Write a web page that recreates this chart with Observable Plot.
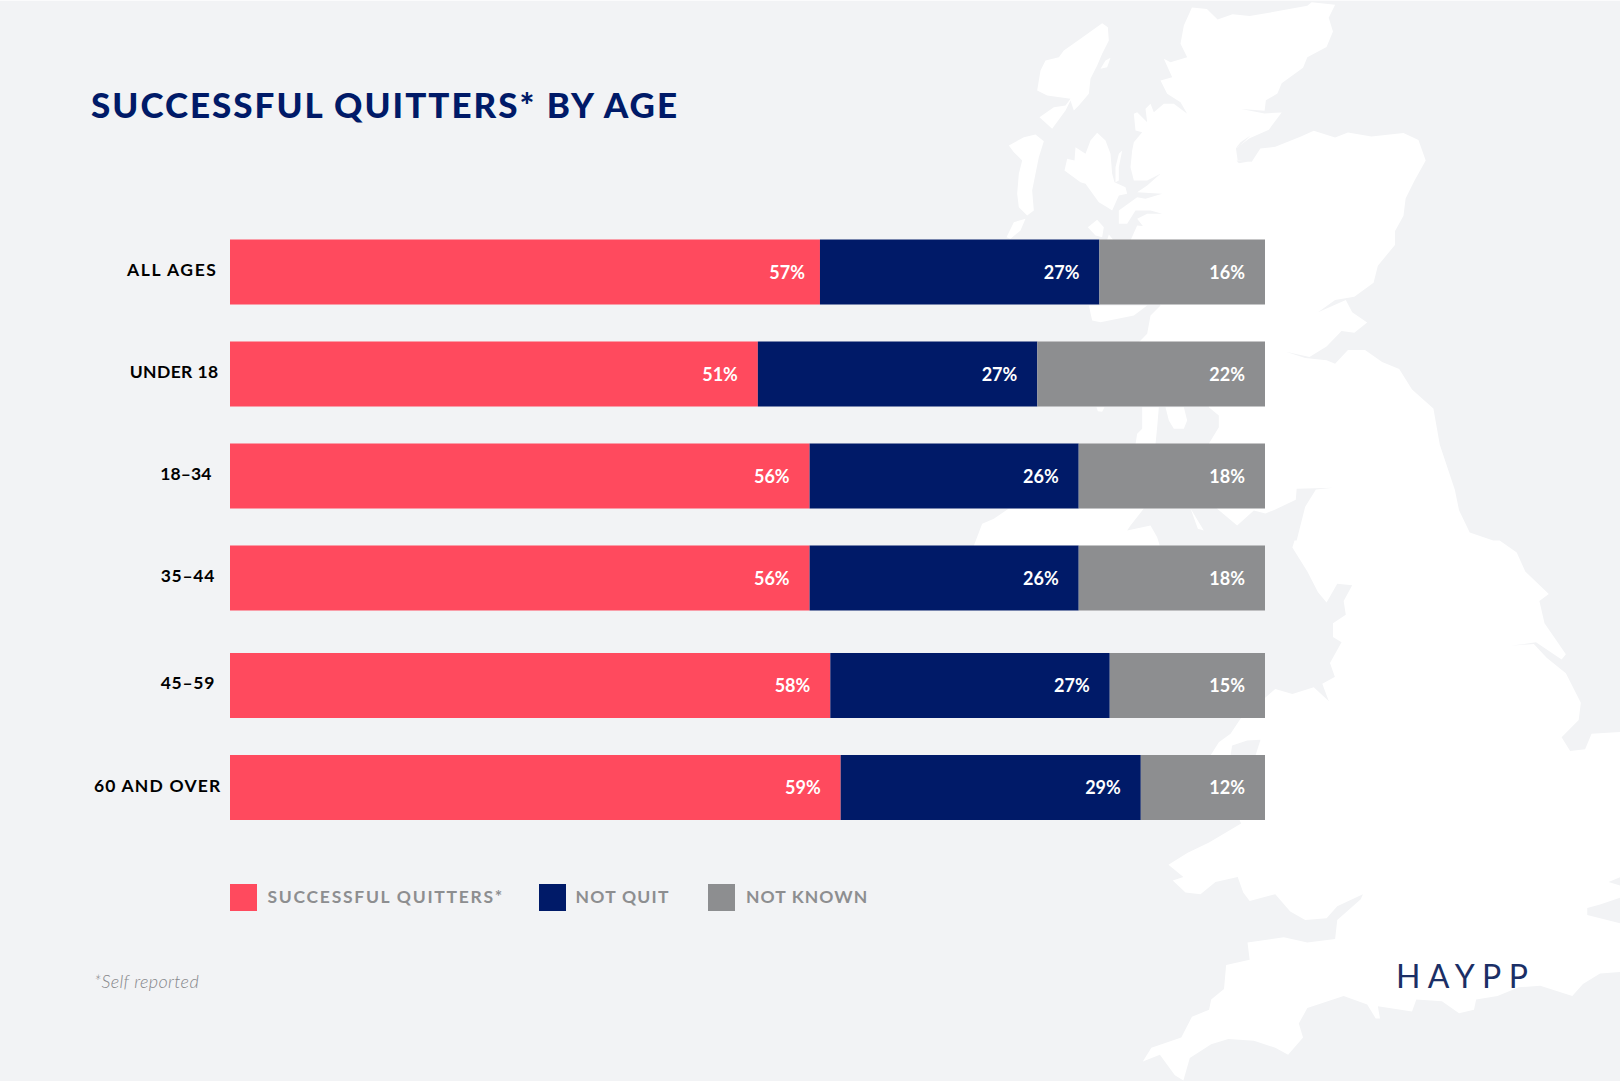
<!DOCTYPE html>
<html>
<head>
<meta charset="utf-8">
<script src="https://cdn.jsdelivr.net/npm/d3@7"></script>
<script src="https://cdn.jsdelivr.net/npm/@observablehq/plot@0.6"></script>
<style>
  html, body { margin: 0; padding: 0; background: #f2f3f5; }
  body { position: relative; width: 1620px; height: 1081px; overflow: hidden; font-family: Lato, sans-serif; }
  #map, #chart { position: absolute; left: 0; top: 0; }
  #edge { position: absolute; left: 0; top: 0; width: 1620px; height: 1px; background: #fbfbfc; }
  .abs { position: absolute; white-space: nowrap; line-height: 1; }
  #title { left: 91px; top: 87px; font-size: 35px; font-weight: 900; color: #001a68; letter-spacing: 2px; }
  .swatch { position: absolute; top: 884px; width: 27px; height: 27px; }
  .legend { position: absolute; top: 888px; font-size: 17.5px; font-weight: 700; color: #8d8e90; white-space: nowrap; line-height: 1; }
  #note { left: 94px: top: 972px; font-size: 18px; font-style: italic; font-weight: 300; color: #85868a; letter-spacing: .35px; }
  #note { left: 94px; top: 972px; }
  #logo { left: 1396px; top: 960px; font-size: 32px; font-weight: 400; color: #1b2f66; letter-spacing: 7.4px; }
  .lab0 text { letter-spacing: 1.6px; }
  .lab1 text { letter-spacing: .4px; }
  .lab2 text { letter-spacing: .1px; }
  .lab3 text { letter-spacing: .7px; }
  .lab4 text { letter-spacing: .7px; }
  .lab5 text { letter-spacing: 1.2px; }
</style>
</head>
<body>
<div id="map"></div>
<div id="edge"></div>
<div id="chart"></div>
<div id="title" class="abs">SUCCESSFUL QUITTERS* BY AGE</div>
<div id="legend"></div>
<div id="note" class="abs">*Self reported</div>
<div id="logo" class="abs">HAYPP</div>
<script>
// ---- chart data ----
const ages = ["ALL AGES", "UNDER 18", "18–34", "35–44", "45–59", "60 AND OVER"];
const seriesNames = ["SUCCESSFUL QUITTERS*", "NOT QUIT", "NOT KNOWN"];
const seriesColors = ["#ff4a5e", "#001a68", "#8d8e90"];
const quitters = [57, 51, 56, 56, 58, 59];
const notQuit = [27, 27, 26, 26, 27, 29];
const notKnown = [16, 22, 18, 18, 15, 12];

// ---- layout ----
const labelDx = [-13, -12, -19, -15.5, -15.5, -9];
const lowerRowShift = 5.5;     // the last two rows sit a little lower in the reference
const legendSwatchX = [230, 539, 708];
const legendTextX = [267.5, 575.5, 746];
const legendSpacing = [1.72, 1.25, 1.08];

const rows = ages.flatMap((age, i) => {
  let end = 0;
  return [quitters, notQuit, notKnown].map((vals, s) => {
    end += vals[i];
    return {age, series: seriesNames[s], value: vals[i], end};
  });
});

// the "57%" label sits closer to its bar's end than the others
const isFirst = d => d.age === ages[0] && d.series === seriesNames[0];

const groupMarks = (names, dy) => {
  const data = rows.filter(d => names.includes(d.age));
  const text = (subset, dx) => Plot.text(subset, {
    x: "end", y: "age", text: d => d.value + "%", textAnchor: "end",
    dx, dy: dy + 0.5, fill: "#fff", fontSize: 18, fontWeight: 700
  });
  return [
    Plot.barX(data, Plot.stackX({x: "value", y: "age", fill: "series", order: seriesNames, dy})),
    text(data.filter(d => !isFirst(d)), -20.5),
    text(data.filter(isFirst), -15.5)
  ];
};

const labelMarks = ages.map((age, i) => Plot.text([age], {
  x: () => 0, y: d => d, text: d => d, textAnchor: "end", dx: labelDx[i],
  dy: (i >= 4 ? lowerRowShift : 0) - (i === 5 ? 1.5 : 2.5), fill: "#000", fontSize: 17.5, fontWeight: 700,
  className: "lab" + i
}));

const chart = Plot.plot({
  width: 1620, height: 1081, margin: 0,
  style: {background: "transparent", fontFamily: "Lato, sans-serif"},
  x: {domain: [0, 100], range: [230, 1265], axis: null},
  y: {domain: ages, range: [239.5, 814.5], paddingInner: 0.3627, paddingOuter: 0, round: false, axis: null},
  color: {domain: seriesNames, range: seriesColors},
  marks: [
    ...groupMarks(ages.slice(0, 4), 0),
    ...groupMarks(ages.slice(4), lowerRowShift),
    ...labelMarks
  ]
});
document.getElementById("chart").append(chart);

const legend = document.getElementById("legend");
seriesNames.forEach((name, i) => {
  const sw = document.createElement("div");
  sw.className = "swatch";
  sw.style.left = legendSwatchX[i] + "px";
  sw.style.background = seriesColors[i];
  const tx = document.createElement("div");
  tx.className = "legend";
  tx.style.left = legendTextX[i] + "px";
  tx.style.letterSpacing = legendSpacing[i] + "px";
  tx.textContent = name;
  legend.append(sw, tx);
});

// ---- background map outline (decoration only) ----
const A = pts => pts.map(([x, y]) => [950 + x / 2.34, y / 2.904]);        // upper crop
const B = pts => pts.map(([x, y]) => [950 + x / 2.34, 540 + y / 2.898]);  // lower crop
const C = pts => pts.map(([x, y]) => [990 + x / 3, 10 + y / 3]);          // hebrides crop
const D = pts => pts.map(([x, y]) => [960 + x / 3, 300 + y / 3]);         // band crops
const E = pts => pts.map(([x, y]) => [960 + x / 3, 500 + y / 3]);
const F = pts => pts.map(([x, y]) => [1140 + x / 3, 700 + y / 3]);

const mainland = [
  ...A([[565,20],[600,25],[625,55],[660,40],[700,45],[770,30],[835,15],[845,5],[900,12],[885,50],[895,90],[880,135],[835,165],[825,195],[775,240],[765,270],[738,290],[735,320],[680,315],[735,328],[775,325],[745,375],[700,400],[668,430],[672,465],[705,468],[725,430],[760,425],[820,395],[850,378],[900,398],[930,383],[985,395],[1060,385],[1095,405],[1112,465],[1085,525],[1065,575],[1060,625],[1040,670],[1040,710],[1000,770],[990,820],[945,860],[900,870],[860,905],[925,870],[940,905],[975,935],[945,965],[915,960],[880,1005],[840,1035],[785,1020],[830,1038],[880,1045],[900,1055],[930,1015],[970,1015],[1010,1050],[1050,1070],[1080,1130],[1130,1185],[1145,1290],[1180,1420],[1190,1480],[1215,1545],[1270,1568]]),
  ...B([[1285,0],[1325,35],[1345,90],[1400,155],[1378,175],[1390,240],[1440,330],[1430,345],[1370,295],[1310,305],[1365,300],[1395,340],[1440,385],[1475,470],[1470,520],[1430,570],[1450,610],[1485,605],[1500,560],[1568,555],[1568,975],[1540,990],[1568,1000],[1568,1035],[1520,1055],[1490,1065],[1490,1085],[1568,1110],[1568,1250],[1520,1255],[1480,1285],[1455,1320],[1380,1290],[1330,1295],[1280,1320],[1230,1330],[1225,1360],[1190,1370],[1150,1335],[1090,1330],[1080,1365],[1000,1350],[1005,1385],[995,1385],[975,1345],[920,1320],[835,1355],[815,1400],[825,1440],[790,1490],[760,1470],[710,1450],[650,1445],[610,1460],[560,1500],[545,1565],[525,1550],[490,1490],[450,1510],[470,1470],[540,1440],[565,1380],[605,1360],[610,1330],[640,1300],[645,1230],[700,1215],[695,1165],[780,1150],[835,1165],[900,1155],[905,1100],[960,1040],[965,1025],[905,1060],[880,1095],[830,1100],[795,1075],[760,1025],[700,1045],[685,1020],[672,975],[620,990],[585,1025],[550,1020],[520,985],[545,975],[510,940],[555,905],[605,875],[680,820]]),
  ...F([[210,165],[235,125],[270,100],[300,55]]),
  ...B([[737,455],[760,430],[800,445],[850,425],[885,465],[870,415],[900,395],[945,440],[920,450],[905,415],[888,355],[915,295],[895,280],[895,240],[925,215],[920,175],[940,130],[905,125],[880,180],[860,150],[835,90],[800,20],[805,0]]),
  ...A([[810,1568],[830,1470],[855,1420],[895,1415],[810,1418],[808,1450],[760,1478],[737,1490]]),
  ...E([[880,30],[830,75],[770,25]]),
  ...D([[745,430],[775,380],[775,345],[745,320],[750,125],[535,125],[560,100],[570,45],[600,15]]),
  ...C([[420,690],[440,645],[490,650],[460,650],[440,625],[470,610],[515,610],[480,600],[435,600],[410,640],[385,640],[385,600],[440,560],[465,565],[515,550],[440,545],[470,525],[510,490],[470,510],[430,510],[420,470],[425,420],[430,395],[455,365],[435,360],[430,310],[440,305],[470,335],[465,295],[480,280],[490,305],[520,280],[550,280],[590,310],[570,275],[530,250],[510,210],[545,200],[520,145],[540,155],[590,140],[570,100],[580,45]])
];

const islands = [
  C([[335,38],[352,50],[355,90],[335,130],[320,165],[300,205],[295,250],[265,285],[250,300],[240,270],[225,300],[185,355],[147,320],[190,290],[225,285],[240,265],[170,255],[140,240],[150,180],[165,150],[205,140],[220,120],[270,85]]),
  C([[360,142],[350,170],[330,175],[345,150]]),
  C([[55,405],[100,380],[135,372],[160,392],[145,440],[135,490],[125,540],[130,600],[110,615],[85,590],[80,550],[85,490],[95,450],[70,425]]),
  C([[105,625],[90,660],[60,685],[48,680],[70,635]]),
  C([[320,367],[345,390],[360,430],[365,490],[372,515],[405,530],[410,550],[385,555],[365,600],[350,590],[325,575],[285,520],[270,515],[222,480],[230,445],[252,450],[255,410],[285,430],[300,390]]),
  C([[395,420],[385,470],[385,510],[375,515],[375,470],[385,430]]),
  C([[320,628],[340,650],[335,680],[315,675],[292,650]]),
  C([[355,672],[368,688],[350,688]]),
  D([[385,15],[560,15],[520,45],[420,65],[395,60]]),
  D([[545,320],[595,320],[590,380],[585,431],[525,431],[530,400],[545,385]]),
  D([[615,320],[670,320],[680,360],[670,385],[640,385],[625,360]]),
  D([[408,320],[432,320],[425,334],[412,332]]),
  E([[40,136],[65,70],[100,55],[145,24],[550,24],[510,75],[500,90],[570,75],[590,110],[598,136]]),
  E([[690,24],[730,90],[712,85]])
];

const holes = [
  F([[270,165],[275,135],[320,120],[360,118],[345,165]]),
  C([[780,375],[750,395],[735,415],[755,400]]),
  C([[738,450],[780,452],[745,458]])
];

const close = r => [...r, r[0]];
const geo = rs => ({type: "MultiPolygon", coordinates: rs.map(r => [close(r)])});

const map = Plot.plot({
  width: 1620, height: 1081, margin: 0,
  projection: "identity",
  style: {background: "transparent"},
  marks: [
    Plot.geo(geo([mainland, ...islands]), {fill: "#fff", stroke: "none"}),
    Plot.geo(geo(holes), {fill: "#f2f3f5", stroke: "none"})
  ]
});
document.getElementById("map").append(map);
</script>
</body>
</html>
